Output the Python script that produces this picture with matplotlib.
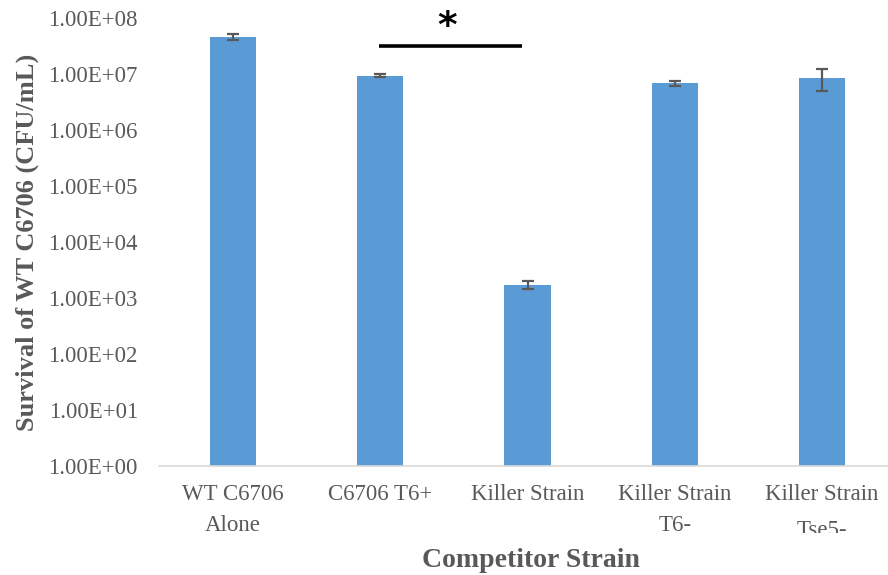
import matplotlib
matplotlib.use("Agg")
import matplotlib.pyplot as plt
from matplotlib.transforms import Bbox, TransformedBbox
import numpy as np

categories = ["WT C6706\nAlone", "C6706 T6+", "Killer Strain", "Killer Strain\nT6-", "Killer Strain\nTse5-"]
values = [4.63e7, 9.3e6, 1.72e3, 6.8e6, 8.55e6]
errors = [5.5e6, 0.6e6, 0.28e3, 0.8e6, 3.6e6]
ytick_vals = [1e0, 1e1, 1e2, 1e3, 1e4, 1e5, 1e6, 1e7, 1e8]
ytick_labels = ["1.00E+00", "1.00E+01", "1.00E+02", "1.00E+03", "1.00E+04",
                "1.00E+05", "1.00E+06", "1.00E+07", "1.00E+08"]

W, H = 888, 575
fig = plt.figure(figsize=(W / 100, H / 100), dpi=100)
ax = fig.add_axes([159.4 / W, 1 - 466 / H, (895.6 - 159.4) / W, (466 - 18) / H])

serif = ["Liberation Serif", "DejaVu Serif"]
gray = "#595959"

x = np.arange(len(categories))
ax.bar(x, values, width=0.315, color="#5B9BD5", zorder=2)
ax.errorbar(x, values, yerr=errors, fmt="none", ecolor="#595959",
            elinewidth=1.6, capsize=4.5, capthick=1.6, zorder=3)

ax.set_yscale("log")
ax.set_ylim(1e0, 1e8)
ax.set_xlim(-0.5, len(categories) - 0.5)
ax.set_yticks(ytick_vals)
ax.set_yticklabels(ytick_labels, fontfamily=serif, fontsize=16.5, color=gray)
ax.minorticks_off()
ax.set_xticks(x)
ax.set_xticklabels(categories, fontfamily=serif, fontsize=16.5, color=gray,
                   linespacing=1.61)
ax.tick_params(axis="y", length=0, pad=15.5)
ax.tick_params(axis="x", length=0, pad=13)

for s in ["top", "right", "left"]:
    ax.spines[s].set_visible(False)
ax.spines["bottom"].set_color("#D9D9D9")
ax.spines["bottom"].set_linewidth(1.2)

ax.set_ylabel("Survival of WT C6706 (CFU/mL)", fontfamily=serif, fontsize=19,
              fontweight="bold", color=gray)
ax.yaxis.set_label_coords((39 - 159.4) / 736.2, 0.5)
ax.set_xlabel("Competitor Strain", fontfamily=serif, fontsize=20,
              fontweight="bold", color=gray)
ax.xaxis.set_label_coords((531 - 159.4) / 736.2, -(548 - 466) / 448)

# significance bar
ax.plot([0.99, 1.96], [3.2e7, 3.2e7], color="black", lw=2.6, clip_on=False,
        solid_capstyle="butt", zorder=4)
ax.text(1.455, 6.8e7, "*", fontsize=27, fontweight="bold", ha="center", va="center",
        fontfamily=["DejaVu Sans"], color="black", clip_on=False)

# last tick label: lower second line, clipped like the original
lbl = ax.get_xticklabels()[-1]
lbl.set_linespacing(1.91)
clipbox = TransformedBbox(Bbox([[0, 1 - 533 / H], [1, 1]]), fig.transFigure)
lbl.set_clip_box(clipbox)
lbl.set_clip_on(True)

fig.savefig("out.png", dpi=100)
